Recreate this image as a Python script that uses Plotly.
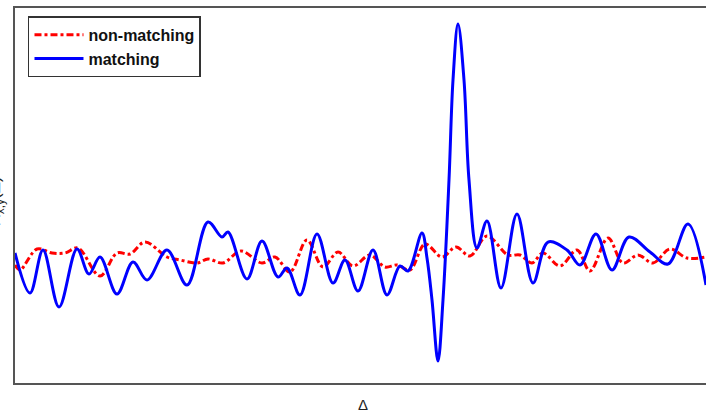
import plotly.graph_objects as go

# lag (Δ) positions and correlation values (arbitrary units)
delta_matching = [0, 15, 28, 44, 62, 74, 85, 102, 118, 132, 152, 172, 193, 207, 213,
                  232, 247, 263, 272, 285, 302, 318, 330, 343, 358, 372, 385, 393,
                  407, 412, 417, 423, 428, 434, 438, 443, 449, 454, 462, 472, 486,
                  502, 518, 533, 552, 565, 581, 597, 614, 635, 653, 673, 691]
corr_matching = [5, -35, 8, -49, 9, -16, 1, -36, -4, -22, 8, -27, 36, 21, 26,
                 -21, 17, -19, -10, -37, 24, -25, -2, -33, 8, -37, -8, -13,
                 25, 0, -42, -103, -42, 78, 178, 234, 178, 78, 10, 37, -30,
                 44, -25, 16, 8, -7, 24, -12, 21, 6, -6, 34, -27]

delta_nonmatching = [0, 5, 22, 37, 50, 63, 85, 102, 115, 130, 152, 165, 182, 193, 208,
                     226, 247, 260, 275, 292, 308, 323, 338, 355, 370, 382, 395, 410,
                     427, 441, 455, 472, 493, 505, 517, 528, 545, 562, 575, 593, 608,
                     623, 638, 655, 672, 691]
corr_nonmatching = [-7, -12, 9, 5, 5, 10, -18, 5, 4, 16, 1, -2, -5, -1, -5,
                    7, -5, 1, -14, 18, -9, 6, -8, 3, -9, -7, -12, 14,
                    1, 11, 2, 22, 3, 3, -5, 5, -8, 8, -13, 20, -5,
                    3, -5, 9, 0, 1]

fig = go.Figure()
fig.add_trace(go.Scatter(
    x=delta_nonmatching, y=corr_nonmatching, mode="lines", name="non-matching",
    line=dict(color="#ff0000", width=3, dash="7px,3px,3px,3px", shape="spline", smoothing=1.0),
))
fig.add_trace(go.Scatter(
    x=delta_matching, y=corr_matching, mode="lines", name="matching",
    line=dict(color="#0000ff", width=3, shape="spline", smoothing=1.0),
))

axis_common = dict(showgrid=False, zeroline=False, showticklabels=False, ticks="",
                   showline=True, linecolor="#555555", linewidth=2)
fig.update_xaxes(range=[0, 691], mirror=True, **axis_common)
fig.update_yaxes(range=[-125, 250], mirror=False, **axis_common)

fig.update_layout(
    width=706, height=411,
    margin=dict(l=15, r=0, t=8, b=28),
    paper_bgcolor="white", plot_bgcolor="white",
    showlegend=True,
    legend=dict(x=0.0188, y=0.978, xanchor="left", yanchor="top",
                bgcolor="white", bordercolor="#333333", borderwidth=1.5,
                itemwidth=49,
                font=dict(family="Liberation Sans", size=16, color="#111111", weight="bold"),
                tracegroupgap=0),
    annotations=[
        dict(text="Δ", x=0.5036, y=-0.056, xref="paper", yref="paper",
             xanchor="center", yanchor="middle", showarrow=False,
             font=dict(family="Liberation Sans", size=15, color="#222222")),
        dict(text="R<sub>x,y</sub>(Δ)", x=-0.027, y=0.485, xref="paper", yref="paper",
             xanchor="center", yanchor="middle", showarrow=False, textangle=-90,
             font=dict(family="Liberation Sans", size=17, color="#222222")),
    ],
)

fig.write_html("out.html",
               config={"displayModeBar": False},
               post_script="document.body.style.margin='0';document.body.style.overflow='hidden';")
